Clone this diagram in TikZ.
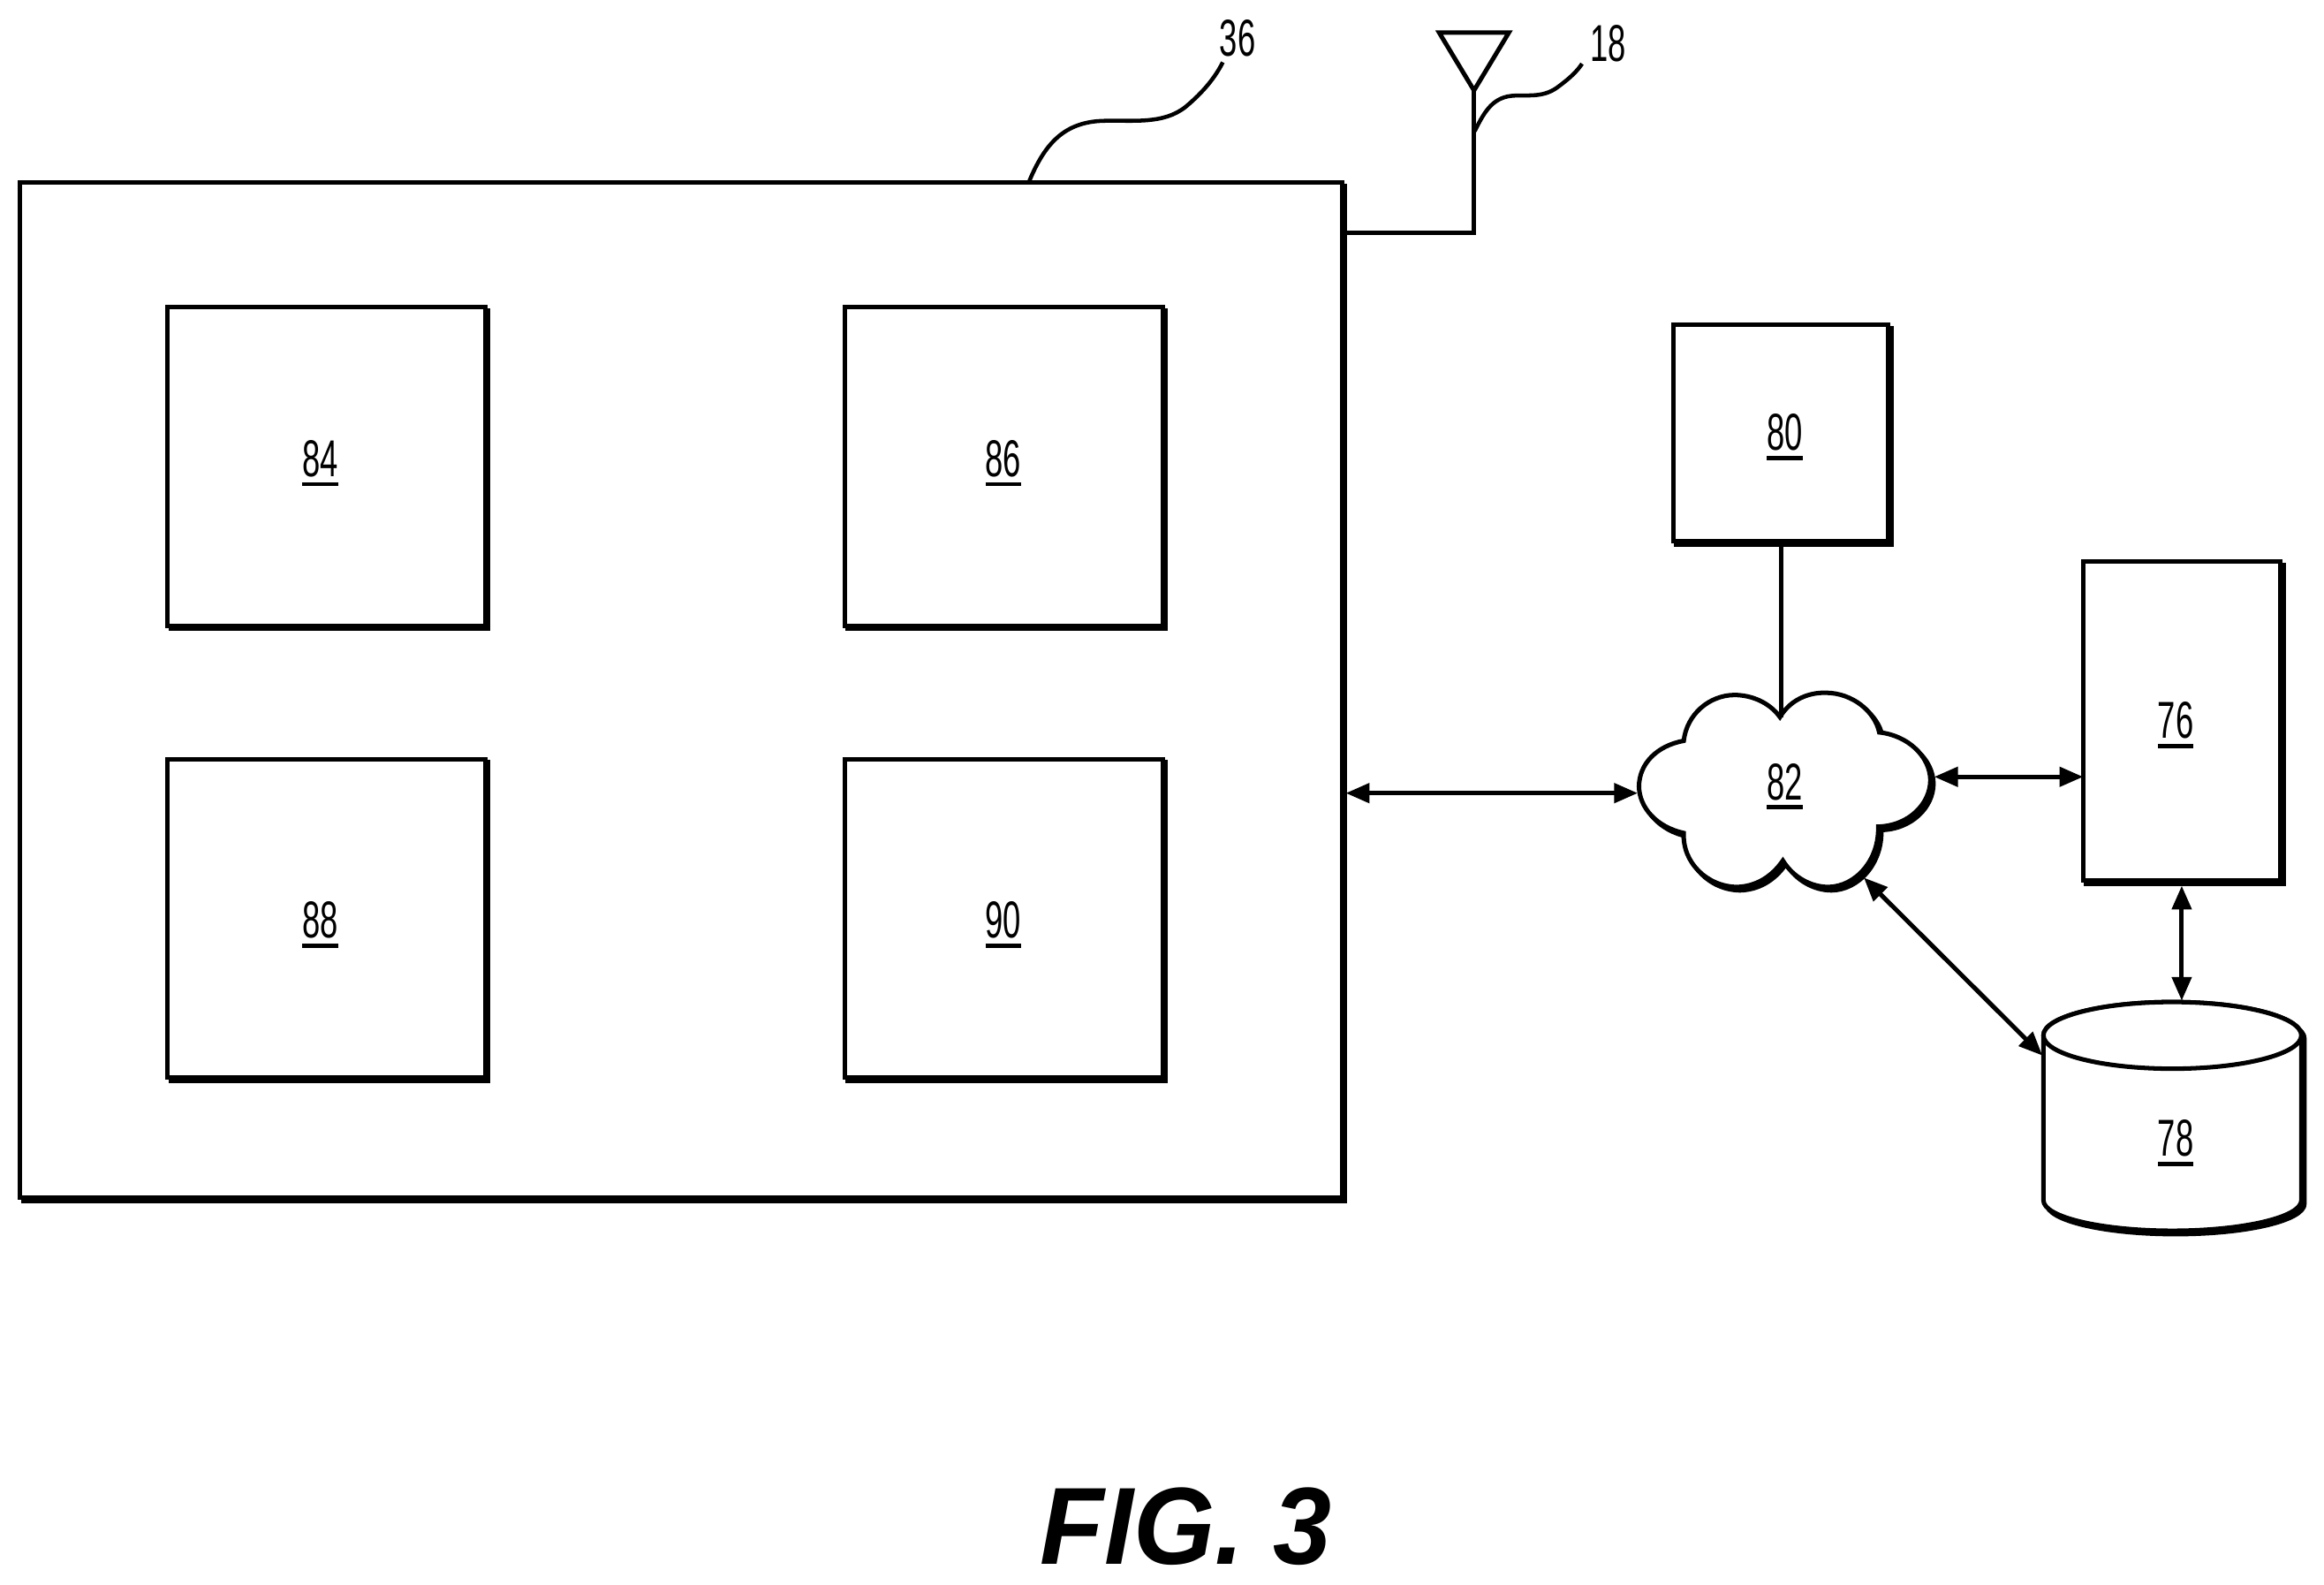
\documentclass[tikz,border=0pt]{standalone}
\usepackage{fontspec}
\setmainfont{Liberation Sans}
\newfontfamily\numfont[FakeStretch=0.62]{Liberation Sans}
\usetikzlibrary{arrows.meta}
\newcommand{\numu}[1]{\vtop{\hbox{\numfont\fontsize{35}{35}\selectfont #1}\kern 3.4pt\hrule height 2.9pt}}
\newcommand{\numl}[1]{{\numfont\fontsize{35}{35}\selectfont #1}}
\tikzset{
  lw/.style={line width=3pt},
  shadowed/.style={preaction={draw=black,fill=black,line width=3pt,transform canvas={xshift=2.1pt,yshift=-2.3pt}}},
  blockbox/.style={draw=black,fill=white,lw,shadowed,rectangle,inner sep=0pt,outer sep=0pt},
  refnum/.style={inner sep=0pt,outer sep=0pt},
  link/.style={lw,draw=black},
  both/.style={link,{Triangle[length=16pt,width=13pt]}-{Triangle[length=16pt,width=13pt]}},
  leader/.style={draw=black,line width=2.7pt},
}
\begin{document}
\begin{tikzpicture}[x=1pt,y=-1pt]
\useasboundingbox[fill=white] (0,0) rectangle (1568,1068.6);
% main box
\node[blockbox,minimum width=892pt,minimum height=685pt] (n36) at (459.5,465.5) {};
\node[blockbox,minimum width=214.5pt,minimum height=215pt] (n84) at (220.2,314.5) {};
\node[blockbox,minimum width=214.5pt,minimum height=215pt] (n86) at (677.2,314.5) {};
\node[blockbox,minimum width=214.5pt,minimum height=215pt] (n88) at (220.2,619.5) {};
\node[blockbox,minimum width=214.5pt,minimum height=215pt] (n90) at (677.2,619.5) {};
\node[refnum] at (216,312.5) {\numu{84}};
\node[refnum] at (677,312.5) {\numu{86}};
\node[refnum] at (216,624) {\numu{88}};
\node[refnum] at (677,624) {\numu{90}};
% right boxes
\node[blockbox,minimum width=145pt,minimum height=146pt] (n80) at (1201.5,292) {};
\node[blockbox,minimum width=133pt,minimum height=215pt] (n76) at (1472,486.5) {};
\node[refnum] at (1204,295) {\numu{80}};
\node[refnum] at (1468,489) {\numu{76}};
% cloud
\path[draw=black,fill=white,lw,shadowed]
 (1200.9,483.7) .. controls (1208,472) and (1220,467) .. (1232,467.3)
 .. controls (1250,467.5) and (1265,480) .. (1267.9,494)
 .. controls (1287,496) and (1302,510) .. (1302.4,526)
 .. controls (1302.5,542) and (1288,557) .. (1267.2,557.6)
 .. controls (1268,580) and (1252,598) .. (1233.7,598.3)
 .. controls (1222,598.3) and (1210,592) .. (1202.9,580.5)
 .. controls (1195,592) and (1184,598) .. (1171.8,598.3)
 .. controls (1152,598) and (1135,582) .. (1136,561.9)
 .. controls (1118,558) and (1106,545) .. (1105.8,530.4)
 .. controls (1106,515) and (1118,503) .. (1136,499.7)
 .. controls (1138,482) and (1153,469) .. (1170.1,468.8)
 .. controls (1182,468.8) and (1194,474) .. (1200.9,483.7) -- cycle;
\node[refnum] (n82) at (1204,530.5) {\numu{82}};
\coordinate (cw) at (1105,535);
\coordinate (ce) at (1305,524);
\coordinate (cn) at (1201.5,484);
\coordinate (cs) at (1257.5,592);
% cylinder
\path[draw=black,fill=white,lw,shadowed]
 (1378.7,698.4) arc[start angle=180,end angle=0,x radius=87pt,y radius=22.5pt]
 -- (1552.7,809.7) arc[start angle=0,end angle=-180,x radius=87pt,y radius=20.5pt] -- cycle;
\path[draw=black,fill=white,lw] (1465.7,698.4) ellipse[x radius=87pt,y radius=22.5pt];
\node[refnum] (n78) at (1468,771) {\numu{78}};
\coordinate (dtop) at (1472,675);
\coordinate (dleft) at (1378,712);
% connectors
\draw[both] ([xshift=2.5pt]n36.east |- cw) -- (cw);
\draw[both] (ce) -- (ce -| n76.west);
\draw[both] ([yshift=-3.5pt]n76.south) -- (dtop);
\draw[both] (cs) -- (dleft);
\draw[link] (n80.south) -- (cn);
% antenna
\coordinate (aL) at (971,22);
\coordinate (aR) at (1018,22);
\coordinate (aT) at (994.5,61);
\coordinate (aB) at (994.5,157);
\draw[lw,line join=miter] (aL) -- (aR) -- (aT) -- cycle;
\draw[link] (aT) -- (aB) -- (aB -| n36.east);
% leaders and reference labels
\node[refnum] (l36) at (835,26) {\numl{36}};
\node[refnum] (l18) at (1085,29.5) {\numl{18}};
\coordinate (a36) at (694.5,122);
\coordinate (e36) at (825,42);
\coordinate (a18) at (995,88.5);
\coordinate (e18) at (1067.4,43);
\draw[leader] (a36) .. controls (705,97) and (718,82) .. (745,81.5) .. controls (765,81) and (785,84) .. (800,72) .. controls (812,62) and (820,52) .. (e36);
\draw[leader] (a18) .. controls (1002,74) and (1008,65) .. (1022,64.5) .. controls (1032,64) and (1042,66) .. (1052,58) .. controls (1060,52) and (1064,48) .. (e18);
% caption
\node[refnum,anchor=base] (cap) at (800,1055.2) {\scalebox{0.955}[1]{\fontsize{74}{74}\selectfont\bfseries\itshape FIG. 3}};
\end{tikzpicture}
\end{document}
